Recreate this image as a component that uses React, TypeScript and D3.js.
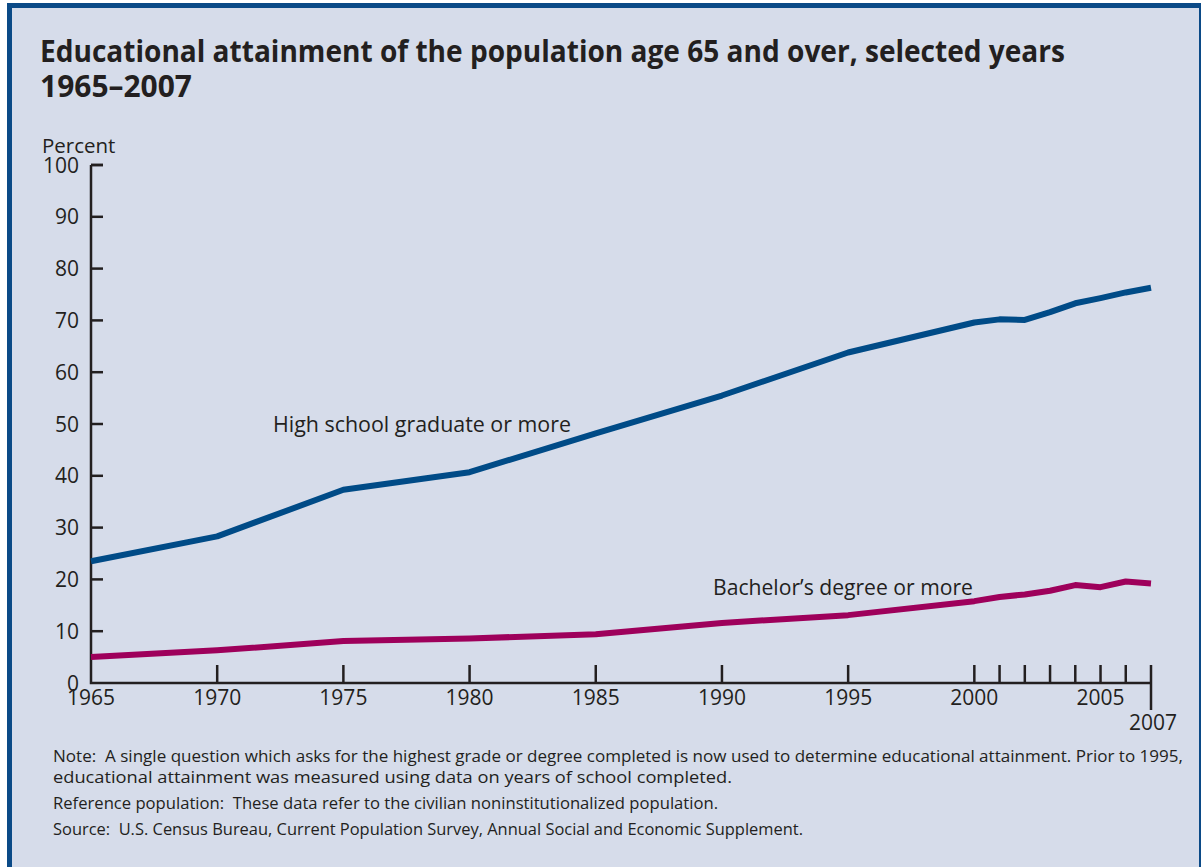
import React from 'react';
import * as d3 from 'd3';

const years = [1965, 1970, 1975, 1980, 1985, 1990, 1995, 2000, 2001, 2002, 2003, 2004, 2005, 2006, 2007];
const highSchool = [23.5, 28.3, 37.3, 40.7, 48.2, 55.5, 63.8, 69.6, 70.2, 70.1, 71.6, 73.3, 74.3, 75.4, 76.3];
const bachelors = [5.0, 6.3, 8.1, 8.6, 9.4, 11.6, 13.1, 15.8, 16.6, 17.1, 17.8, 18.9, 18.5, 19.6, 19.2];

const yTicks = [0, 10, 20, 30, 40, 50, 60, 70, 80, 90, 100];
const xLabelYears = [1965, 1970, 1975, 1980, 1985, 1990, 1995, 2000, 2005];
const lastYear = 2007;

const title = ['Educational attainment of the population age 65 and over, selected years', '1965\u20132007'];
const notes = [
  'Note:  A single question which asks for the highest grade or degree completed is now used to determine educational attainment. Prior to 1995,',
  'educational attainment was measured using data on years of school completed.',
  'Reference population:  These data refer to the civilian noninstitutionalized population.',
  'Source:  U.S. Census Bureau, Current Population Survey, Annual Social and Economic Supplement.',
];

const W = 1201;
const H = 867;
const ink = '#231f20';
const font = '"Open Sans", "Noto Sans", sans-serif';

// note lines: baseline and measured width in the reference
const noteY = [762, 783, 809, 835];
const noteW = [1130, 679, 665, 750];

const App = () => {
  const x = d3.scaleLinear().domain([1965, 2007]).range([91, 1151]);
  const y = d3.scaleLinear().domain([0, 100]).range([683, 165]);

  const line = d3.line<number>()
    .x((_, i) => x(years[i]))
    .y(d => y(d));

  return (
    <svg width={W} height={H} style={{ position: 'absolute', left: 0, top: 0, background: '#fff' }}>
      {/* panel with blue frame */}
      <rect x={9.5} y={5.5} width={1192} height={H + 10} fill="#d6dcea" stroke="#0b4a87" strokeWidth={5} />

      <g fill={ink} fontFamily={font}>
        <text x={40} y={62} fontSize={30} fontWeight="bold" textLength={1025} lengthAdjust="spacingAndGlyphs">{title[0]}</text>
        <text x={40} y={97} fontSize={30} fontWeight="bold" textLength={152} lengthAdjust="spacingAndGlyphs">{title[1]}</text>

        <text x={42} y={153} fontSize={20.5}>Percent</text>

        {yTicks.map(t => (
          <g key={t}>
            <text x={79} y={y(t)} dy="0.36em" fontSize={21} textAnchor="end">{t}</text>
            {t > 0 && <line x1={91} x2={103} y1={y(t)} y2={y(t)} stroke={ink} strokeWidth={2.5} />}
          </g>
        ))}

        {years.filter(yr => yr > 1965).map(yr => (
          <line key={yr} x1={x(yr)} x2={x(yr)} y1={y(0)} y2={y(0) - 18} stroke={ink} strokeWidth={2.5} />
        ))}
        <line x1={x(lastYear)} x2={x(lastYear)} y1={y(0)} y2={y(0) + 27} stroke={ink} strokeWidth={2.5} />

        {xLabelYears.map(yr => (
          <text key={yr} x={x(yr)} y={705} fontSize={21} textAnchor="middle">{yr}</text>
        ))}
        <text x={x(lastYear) + 2} y={730} fontSize={21} textAnchor="middle">{lastYear}</text>

        <path d={`M${x(1965)},${y(100)} V${y(0)} H${x(lastYear)}`} fill="none" stroke={ink} strokeWidth={2.5} />
        <line x1={x(1965)} x2={103} y1={y(100)} y2={y(100)} stroke={ink} strokeWidth={2.5} />

        <path d={line(highSchool) ?? ''} fill="none" stroke="#004b87" strokeWidth={6} strokeLinejoin="round" />
        <path d={line(bachelors) ?? ''} fill="none" stroke="#9e005b" strokeWidth={6} strokeLinejoin="round" />

        <text x={273} y={432} fontSize={21} textLength={298} lengthAdjust="spacingAndGlyphs">High school graduate or more</text>
        <text x={713} y={595} fontSize={21} textLength={260} lengthAdjust="spacingAndGlyphs">Bachelor’s degree or more</text>

        {notes.map((n, i) => (
          <text key={i} x={53} y={noteY[i]} fontSize={16.5} style={{ whiteSpace: 'pre' }}
            textLength={noteW[i]} lengthAdjust="spacingAndGlyphs">{n}</text>
        ))}
      </g>
    </svg>
  );
};

export default App;
